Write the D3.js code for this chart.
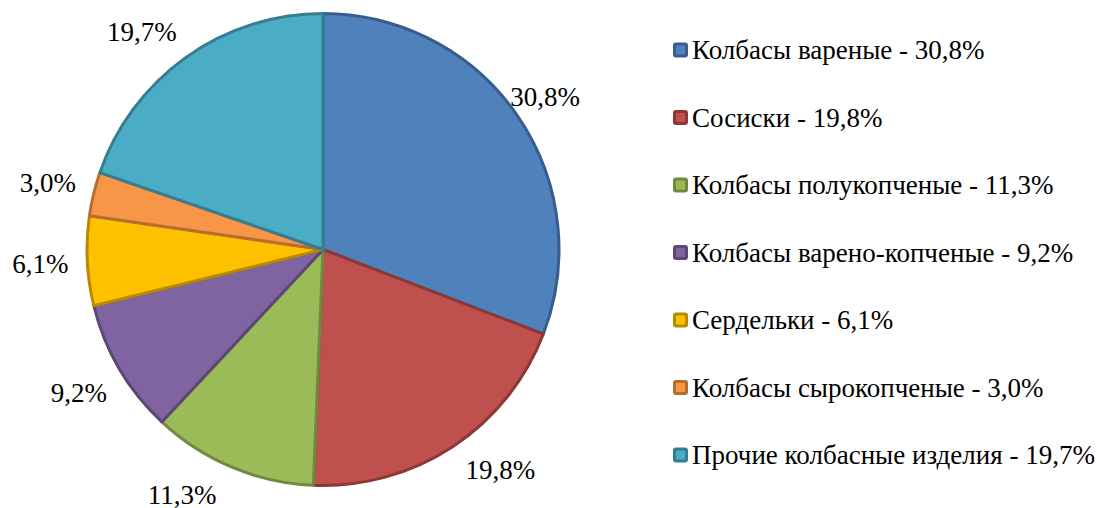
<!DOCTYPE html>
<html><head><meta charset="utf-8">
<style>
body { margin: 0; background: #fff; }
</style>
</head><body>
<script src="https://cdn.jsdelivr.net/npm/d3@7"></script>
<script>

var categories = [
  "Колбасы вареные",
  "Сосиски",
  "Колбасы полукопченые",
  "Колбасы варено-копченые",
  "Сердельки",
  "Колбасы сырокопченые",
  "Прочие колбасные изделия"
];
var values = [30.8, 19.8, 11.3, 9.2, 6.1, 3.0, 19.7];
var fills = ["#4F81BD", "#C0504D", "#9BBB59", "#8064A2", "#FFC000", "#F79646", "#4BACC6"];
var strokes = ["#385D8A", "#8C3836", "#71893F", "#5C4776", "#B88A00", "#B66D31", "#357D91"];

var width = 1097, height = 508,
    cx = 323, cy = 249.5, radius = 236,
    labelR = 283,
    font = "'Liberation Serif'";

var fmt = function(v) { return v.toFixed(1).replace(".", ",") + "%"; };

var svg = d3.select("body").append("svg")
    .attr("width", width)
    .attr("height", height);

var pie = d3.pie().sort(null).value(function(d) { return d; });
var arcs = pie(values);

var arc = d3.arc().innerRadius(0).outerRadius(radius);

var g = svg.append("g")
    .attr("transform", "translate(" + cx + "," + cy + ")");

g.selectAll("path")
    .data(arcs)
  .enter().append("path")
    .attr("d", arc)
    .style("fill", function(d, i) { return fills[i]; })
    .style("stroke", function(d, i) { return strokes[i]; })
    .style("stroke-width", 3)
    .style("stroke-linejoin", "round");

// labels on a circle, pushed back inside the chart area like Excel does
var yMin = 32 - cy, yMaxLeft = 495 - cy, yMaxRight = 470 - cy, xMax = 545 - cx;
function labelPos(d) {
  var a = (d.startAngle + d.endAngle) / 2;
  var x = labelR * Math.sin(a), y = -labelR * Math.cos(a);
  var yMax = x < 0 ? yMaxLeft : yMaxRight;
  if (y < yMin || y > yMax) {
    // slide along the label circle
    y = Math.max(yMin, Math.min(yMax, y));
    var s = Math.sqrt(labelR * labelR - y * y);
    x = x < 0 ? -s : s;
  }
  if (x > xMax) {
    // pull in along the same angle
    var k = xMax / x;
    x = xMax;
    y = y * k;
  }
  return [x, y];
}

g.selectAll("text.lbl")
    .data(arcs)
  .enter().append("text")
    .attr("class", "lbl")
    .attr("transform", function(d) { return "translate(" + labelPos(d) + ")"; })
    .attr("text-anchor", "middle")
    .attr("dy", "0.35em")
    .style("font-family", font)
    .style("font-size", "27px")
    .style("fill", "#000")
    .text(function(d) { return fmt(d.data); });

// legend
var legend = svg.append("g")
    .attr("transform", "translate(673,50)");

var item = legend.selectAll("g")
    .data(categories)
  .enter().append("g")
    .attr("transform", function(d, i) { return "translate(0," + (i * 67.5) + ")"; });

item.append("rect")
    .attr("x", 1.5)
    .attr("y", -6)
    .attr("width", 12)
    .attr("height", 12)
    .attr("rx", 1.5)
    .style("fill", function(d, i) { return fills[i]; })
    .style("stroke", function(d, i) { return strokes[i]; })
    .style("stroke-width", 3);

item.append("text")
    .attr("x", 19)
    .attr("dy", "0.35em")
    .style("font-family", font)
    .style("font-size", "27px")
    .style("fill", "#000")
    .text(function(d, i) { return d + " - " + fmt(values[i]); });

</script>
</body></html>
